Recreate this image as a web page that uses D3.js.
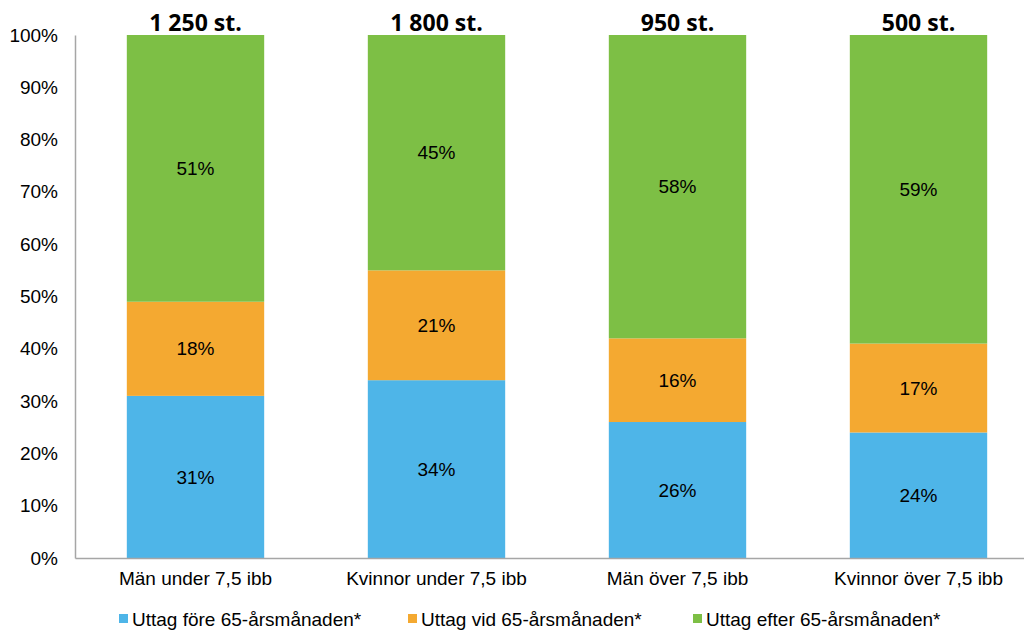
<!DOCTYPE html>
<html><head><meta charset="utf-8">
<script src="https://cdn.jsdelivr.net/npm/d3@7"></script>
<style>body{margin:0;background:#fff}svg{display:block}</style>
</head><body><svg id="c" width="1024" height="630"></svg>
<script>
const categories = ["Män under 7,5 ibb","Kvinnor under 7,5 ibb","Män över 7,5 ibb","Kvinnor över 7,5 ibb"];
const totals = ["1 250 st.","1 800 st.","950 st.","500 st."];
const seriesNames = ["Uttag före 65-årsmånaden*","Uttag vid 65-årsmånaden*","Uttag efter 65-årsmånaden*"];
const fore = [31,34,26,24];
const vid = [18,21,16,17];
const efter = [51,45,58,59];
const yTicks = [0,10,20,30,40,50,60,70,80,90,100];
const colors = ["#4eb5e8","#f4a931","#7dbf45"];

const svg = d3.select("#c");
const L=75, R=1039, T=35, B=558;
const FS = 19;
const x = d3.scaleBand().domain(categories).range([L,R]).paddingInner(0.43).paddingOuter(0.215);
const y = d3.scaleLinear().domain([0,100]).range([B,T]);

const rows = categories.map((c,i)=>({cat:c, fore:fore[i], vid:vid[i], efter:efter[i]}));
const stack = d3.stack().keys(["fore","vid","efter"])(rows);

stack.forEach((s,si)=>{
  const g = svg.append("g");
  g.selectAll("rect").data(s).join("rect")
    .attr("x",d=>x(d.data.cat)).attr("width",x.bandwidth())
    .attr("y",d=>y(d[1])).attr("height",d=>y(d[0])-y(d[1]))
    .attr("fill",colors[si]);
  g.selectAll("text").data(s).join("text")
    .attr("x",d=>x(d.data.cat)+x.bandwidth()/2)
    .attr("y",d=>(y(d[0])+y(d[1]))/2)
    .attr("dy","0.35em").attr("text-anchor","middle")
    .attr("font-family","Liberation Sans, Arial, sans-serif").attr("font-size",FS)
    .attr("fill","#000").text(d=>(d[1]-d[0])+"%");
});

// axes
const ya = svg.append("g").attr("transform",`translate(${L},0)`)
  .call(d3.axisLeft(y).tickValues(yTicks).tickSize(0).tickPadding(17).tickFormat(d=>d+"%"));
ya.select(".domain").attr("stroke","#a6a6a6").attr("stroke-width",1.5);
ya.selectAll("text").attr("font-family","Liberation Sans, Arial, sans-serif").attr("font-size",FS).attr("fill","#000");

const xa = svg.append("g").attr("transform",`translate(0,${B})`)
  .call(d3.axisBottom(x).tickSize(0).tickPadding(14));
xa.select(".domain").attr("stroke","#a6a6a6").attr("stroke-width",1.5);
xa.selectAll("text").attr("font-family","Liberation Sans, Arial, sans-serif").attr("font-size",FS).attr("fill","#000");

// totals
svg.append("g").selectAll("text").data(categories).join("text")
  .attr("x",d=>x(d)+x.bandwidth()/2).attr("y",31)
  .attr("text-anchor","middle")
  .attr("font-family","Open Sans, Liberation Sans, sans-serif").attr("font-weight","bold").attr("font-size",23)
  .attr("fill","#000").text((d,i)=>totals[i]);

// legend
const legX = [119,408,693];
const lg = svg.append("g");
seriesNames.forEach((n,i)=>{
  lg.append("rect").attr("x",legX[i]).attr("y",614).attr("width",9).attr("height",9).attr("fill",colors[i]);
  lg.append("text").attr("x",legX[i]+13).attr("y",626)
    .attr("font-family","Liberation Sans, Arial, sans-serif").attr("font-size",FS).attr("fill","#000").text(n);
});
</script></body></html>
